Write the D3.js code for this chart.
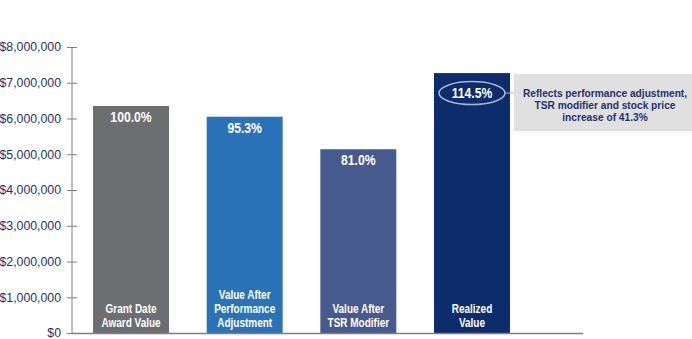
<!DOCTYPE html>
<html><head><meta charset="utf-8">
<script src="https://cdn.jsdelivr.net/npm/d3@7"></script>
<style>body{margin:0;background:#fff}</style>
</head><body>
<svg id="c" width="692" height="339"></svg>
<script>
const categories = [["Grant Date","Award Value"],["Value After","Performance","Adjustment"],["Value After","TSR Modifier"],["Realized","Value"]];
const values = [6350000, 6050000, 5140000, 7270000];
const pctLabels = ["100.0%","95.3%","81.0%","114.5%"];
const colors = ["#6d6e71","#2a73b8","#475a8d","#0c2c6b"];
const yTicks = [0,1000000,2000000,3000000,4000000,5000000,6000000,7000000,8000000];
const note = ["Reflects performance adjustment,","TSR modifier and stock price","increase of 41.3%"];

const svg = d3.select("#c");
const y = d3.scaleLinear().domain([0,8000000]).range([333,47]);
const x = d3.scaleBand().domain(d3.range(categories.length)).range([72,531]).paddingInner(0.3316).paddingOuter(0.185);

// axis
const ax = svg.append("g").attr("transform","translate(72,0)")
  .call(d3.axisLeft(y).tickValues(yTicks).tickSize(5).tickPadding(6).tickFormat(d=>"$"+d3.format(",")(d)));
ax.select(".domain").remove();
ax.selectAll(".tick line").attr("x1",-5).attr("x2",5).attr("stroke","#7f7f7f");
ax.selectAll(".tick text").attr("fill","#1f3070").attr("font-family","Liberation Sans, Arial, sans-serif").attr("font-size",12.3).attr("x",-11);
svg.append("line").attr("x1",72).attr("x2",72).attr("y1",y(8000000)).attr("y2",y(0)).attr("stroke","#7f7f7f");

// bars
svg.selectAll("rect.bar").data(values).enter().append("rect").attr("class","bar")
  .attr("x",(d,i)=>x(i)).attr("width",x.bandwidth())
  .attr("y",d=>y(d)).attr("height",d=>y(0)-y(d))
  .attr("fill",(d,i)=>colors[i]);

svg.append("line").attr("x1",72).attr("x2",583).attr("y1",y(0)+0.5).attr("y2",y(0)+0.5).attr("stroke","#7f7f7f").attr("stroke-width",1.5);

// pct labels
svg.selectAll("text.pct").data(values).enter().append("text").attr("class","pct")
  .attr("transform",(d,i)=>`translate(${x(i)+x.bandwidth()/2},${i===3 ? y(d)+25 : y(d)+16}) scale(0.87,1)`)
  .attr("text-anchor","middle").attr("fill","#fff").attr("font-weight","bold")
  .attr("font-family","Liberation Sans, Arial, sans-serif").attr("font-size",14)
  .text((d,i)=>pctLabels[i]);

// category labels inside bars
categories.forEach((lines,i)=>{
  const n = lines.length;
  lines.forEach((t,j)=>{
    svg.append("text")
      .attr("transform",`translate(${x(i)+x.bandwidth()/2},${y(0)-6-(n-1-j)*14}) scale(0.8,1)`)
      .attr("text-anchor","middle").attr("fill","#fff").attr("font-weight","bold")
      .attr("font-family","Liberation Sans, Arial, sans-serif").attr("font-size",12.5)
      .text(t);
  });
});

// annotation
const cx = x(3)+x.bandwidth()/2, cy = y(values[3])+20;
svg.append("ellipse").attr("cx",cx).attr("cy",cy).attr("rx",33).attr("ry",11.5)
  .attr("fill","none").attr("stroke","#a9b6cf").attr("stroke-width",1.5);
svg.append("rect").attr("x",514).attr("y",y(values[3])+1).attr("width",178).attr("height",57).attr("fill","#e0e0e1");
svg.append("line").attr("x1",cx+33).attr("x2",514).attr("y1",cy).attr("y2",cy).attr("stroke","#a9b6cf").attr("stroke-width",1);
note.forEach((t,j)=>{
  svg.append("text").attr("x",605).attr("y",cy+4+j*12).attr("text-anchor","middle")
    .attr("fill","#1f3070").attr("font-weight","bold").attr("font-family","Liberation Sans, Arial, sans-serif").attr("font-size",10.2).text(t);
});
</script>
</body></html>
